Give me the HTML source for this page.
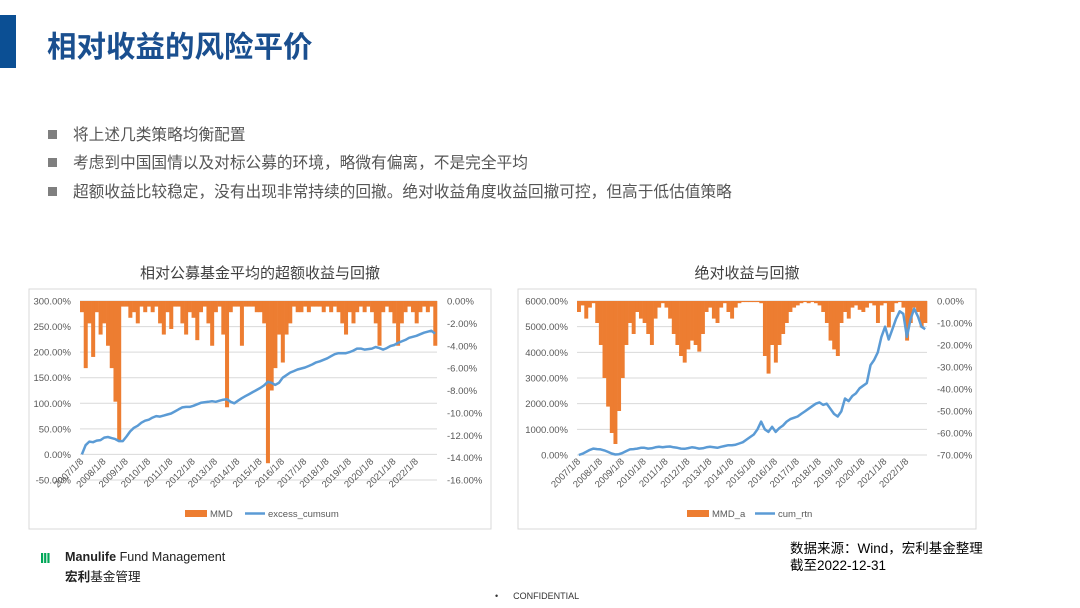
<!DOCTYPE html>
<html><head><meta charset="utf-8">
<style>
body{margin:0;width:1080px;height:608px;background:#fff;position:relative;overflow:hidden;font-family:"Liberation Sans","Noto Sans CJK SC",sans-serif;}
.abs{position:absolute;}
.bul{position:absolute;left:48px;font-size:15.7px;color:#555;}
.bul span.sq{display:inline-block;width:9px;height:9px;background:#7f7f7f;margin-right:16px;vertical-align:1px;}
</style></head><body>
<div class="abs" style="left:0;top:15px;width:16px;height:53px;background:#0b4f94"></div>
<div class="abs" style="left:47px;top:24px;font-size:29.5px;font-weight:bold;color:#1a4f8f;font-family:'Noto Sans CJK SC',sans-serif;">相对收益的风险平价</div>
<div class="bul" style="top:122px"><span class="sq"></span>将上述几类策略均衡配置</div>
<div class="bul" style="top:150px"><span class="sq"></span>考虑到中国国情以及对标公募的环境，略微有偏离，不是完全平均</div>
<div class="bul" style="top:179px"><span class="sq"></span>超额收益比较稳定，没有出现非常持续的回撤。绝对收益角度收益回撤可控，但高于低估值策略</div>
<div class="abs" style="left:29px;width:462px;top:262px;text-align:center;font-size:15px;color:#404040">相对公募基金平均的超额收益与回撤</div>
<div class="abs" style="left:518px;width:458px;top:262px;text-align:center;font-size:15px;color:#404040">绝对收益与回撤</div>
<svg id="svg" class="abs" style="left:0;top:0" width="1080" height="608"></svg>
<div class="abs" style="left:40px;top:550px;font-size:15px;font-weight:bold;color:#00a758;letter-spacing:-1px">III</div>
<div class="abs" style="left:65px;top:550px;font-size:12.6px;color:#222"><b>Manulife</b> Fund Management</div>
<div class="abs" style="left:65px;top:566px;font-size:12.6px;color:#222"><b>宏利</b>基金管理</div>
<div class="abs" style="left:790px;top:540px;font-size:13.5px;color:#000;line-height:17px">数据来源：Wind，宏利基金整理<br>截至2022-12-31</div>
<div class="abs" style="left:495px;top:591px;font-size:9px;color:#333">•&nbsp;&nbsp;&nbsp;&nbsp;&nbsp;&nbsp;CONFIDENTIAL</div>
<script>
const years=['2007/1/8','2008/1/8','2009/1/8','2010/1/8','2011/1/8','2012/1/8','2013/1/8','2014/1/8','2015/1/8','2016/1/8','2017/1/8','2018/1/8','2019/1/8','2020/1/8','2021/1/8','2022/1/8'];
const leftLeftTicks=[300,250,200,150,100,50,0,-50];
const leftRightTicks=[0,-2,-4,-6,-8,-10,-12,-14,-16];
const rightLeftTicks=[6000,5000,4000,3000,2000,1000,0];
const rightRightTicks=[0,-10,-20,-30,-40,-50,-60,-70];
const excessCumsum=[0,18,25,24,27,28, 33,34,32,30,26,26, 35,45,52,56,62,66, 68,72,75,74,76,78, 80,84,88,92,93,93, 95,98,101,102,103,104, 103,105,107,108,103,100, 105,110,114,118,122,126, 130,135,142,140,136,140, 150,155,160,163,166,168, 170,173,176,180,182,185, 188,192,196,198,198,198, 200,203,207,207,205,206, 207,210,208,205,208,212, 214,218,221,224,228,230, 232,235,238,240,242,236];
const mmd=[-1,-6,-2,-5,-1,-3, -2,-4,-6,-9,-12.5,-0.5, -0.5,-1.5,-1,-2,-0.5,-1, -0.5,-1,-0.5,-2,-3,-1, -2.5,-0.5,-0.5,-2,-3,-1, -1.5,-3.5,-1,-0.5,-2,-4, -1,-0.5,-3,-9.5,-1,-0.5, -0.5,-4,-0.5,-0.5,-0.5,-1, -1,-2,-14.5,-8,-6,-3, -5.5,-3,-2,-0.5,-1,-1, -0.5,-1,-0.5,-0.5,-0.5,-1, -0.5,-1,-0.5,-1,-2,-3, -1,-2,-1,-0.5,-1,-0.5, -1,-2,-4,-1,-0.5,-1, -2,-4,-2,-1,-0.5,-1, -2,-1,-0.5,-1,-0.5,-4];
const cumRtn=[0,50,120,200,250,230, 220,180,120,60,20,30, 80,150,220,230,250,280, 280,250,260,300,320,300, 320,330,300,280,250,240, 270,300,280,250,260,300, 320,300,280,320,350,380, 380,400,450,500,600,700, 800,1000,1300,1000,900,1100, 900,1050,1150,1300,1400,1450, 1500,1600,1700,1800,1900,2000, 2050,1950,2000,1800,1600,1500, 1700,2200,2100,2300,2400,2600, 2700,2800,3500,3700,4000,4600, 5000,4500,4900,5300,5600,5500, 4600,5300,5700,5400,5000,4900];
const mmdA=[-5,-2,-8,-3,-1,-10, -20,-35,-48,-60,-65,-50, -35,-20,-10,-15,-5,-8, -10,-15,-20,-8,-3,-1, -3,-8,-15,-20,-25,-28, -22,-18,-20,-23,-15,-5, -3,-8,-10,-3,-1,-5, -8,-3,-1,-0.5,-0.5,-0.5, -0.5,-0.5,-1,-25,-33,-20, -28,-20,-15,-10,-5,-3, -2,-1,-0.5,-1,-0.5,-1, -2,-5,-10,-18,-22,-25, -10,-5,-8,-3,-2,-4, -5,-3,-1,-2,-10,-2, -1,-12,-5,-1,-0.5,-3, -18,-10,-3,-5,-12,-10];
const NS='http://www.w3.org/2000/svg';
const svg=document.getElementById('svg');
function el(t,a,p){const e=document.createElementNS(NS,t);for(const k in a)e.setAttribute(k,a[k]);(p||svg).appendChild(e);return e;}
function chart(o){
  const g=el('g',{});
  
  
  const fr=el('rect',{x:o.bx,y:289,width:o.bw,height:240,fill:'#fff',stroke:'#d9d9d9'},g);
  
  
  const top=301,L=o.x0,R=o.x1;
  const yl=v=>top+(o.lMax-v)/(o.lMax-o.lMin)*(o.lBot-top);
  const yr=v=>top+(0-v)/(0-o.rMin)*(o.rBot-top);
  o.lt.forEach(v=>{
    const ln=el('line',{x1:L,x2:R,y1:yl(v),y2:yl(v),stroke:'#d9d9d9','stroke-width':1},g);
    
    
    const t=el('text',{x:L-9,y:yl(v)+3.5,'text-anchor':'end','font-size':9.5,fill:'#595959'},g);
    t.textContent=v.toFixed(2)+'%';
    
    
  });
  o.rt.forEach(v=>{
    const t=el('text',{x:R+10,y:yr(v)+3.5,'font-size':9.5,fill:'#595959'},g);
    t.textContent=v.toFixed(2)+'%';
    
    
  });
  const n=o.dd.length,bw=(R-L)/n;
  o.dd.forEach((v,i)=>{
    const y2=yr(v);
    const b=el('rect',{x:L+i*bw,y:top,width:bw+0.3,height:y2-top,fill:'#ed7d31'},g);
    
    
  });
  const pts=o.line.map((v,i)=>(L+(i+0.5)*bw).toFixed(1)+','+yl(v).toFixed(1)).join(' ');
  const pl=el('polyline',{points:pts,fill:'none',stroke:'#5b9bd5','stroke-width':2.5,'stroke-linejoin':'round'},g);
  
  
  const yw=(R-L)/years.length;
  years.forEach((s,i)=>{
    const x=L+i*yw+4,y=o.labY;
    const t=el('text',{x:x,y:y,'text-anchor':'end','font-size':9.5,fill:'#595959',transform:`rotate(-45 ${x} ${y})`},g);
    t.textContent=s;
    
    
  });
  const lr=el('rect',{x:o.lgx,y:510,width:22,height:7,fill:'#ed7d31'},g);
  
  
  const lt1=el('text',{x:o.lgx+25,y:517,'font-size':9.5,fill:'#595959'},g);lt1.textContent=o.ddName;
  
  
  const ll=el('line',{x1:o.lgx2,x2:o.lgx2+20,y1:513.5,y2:513.5,stroke:'#5b9bd5','stroke-width':2.5},g);
  
  
  const lt2=el('text',{x:o.lgx2+23,y:517,'font-size':9.5,fill:'#595959'},g);lt2.textContent=o.lineName;
  
  
}
chart({name:'left-chart',bx:29,bw:462,x0:80,x1:437,lMax:300,lMin:-50,lBot:480,rMin:-16,rBot:480,lt:leftLeftTicks,rt:leftRightTicks,dd:mmd,line:excessCumsum,labY:462,lgx:185,lgx2:245,ddName:'MMD',lineName:'excess_cumsum'});
chart({name:'right-chart',bx:518,bw:458,x0:577,x1:927,lMax:6000,lMin:0,lBot:455,rMin:-70,rBot:455,lt:rightLeftTicks,rt:rightRightTicks,dd:mmdA,line:cumRtn,labY:462,lgx:687,lgx2:755,ddName:'MMD_a',lineName:'cum_rtn'});
</script>
</body></html>
